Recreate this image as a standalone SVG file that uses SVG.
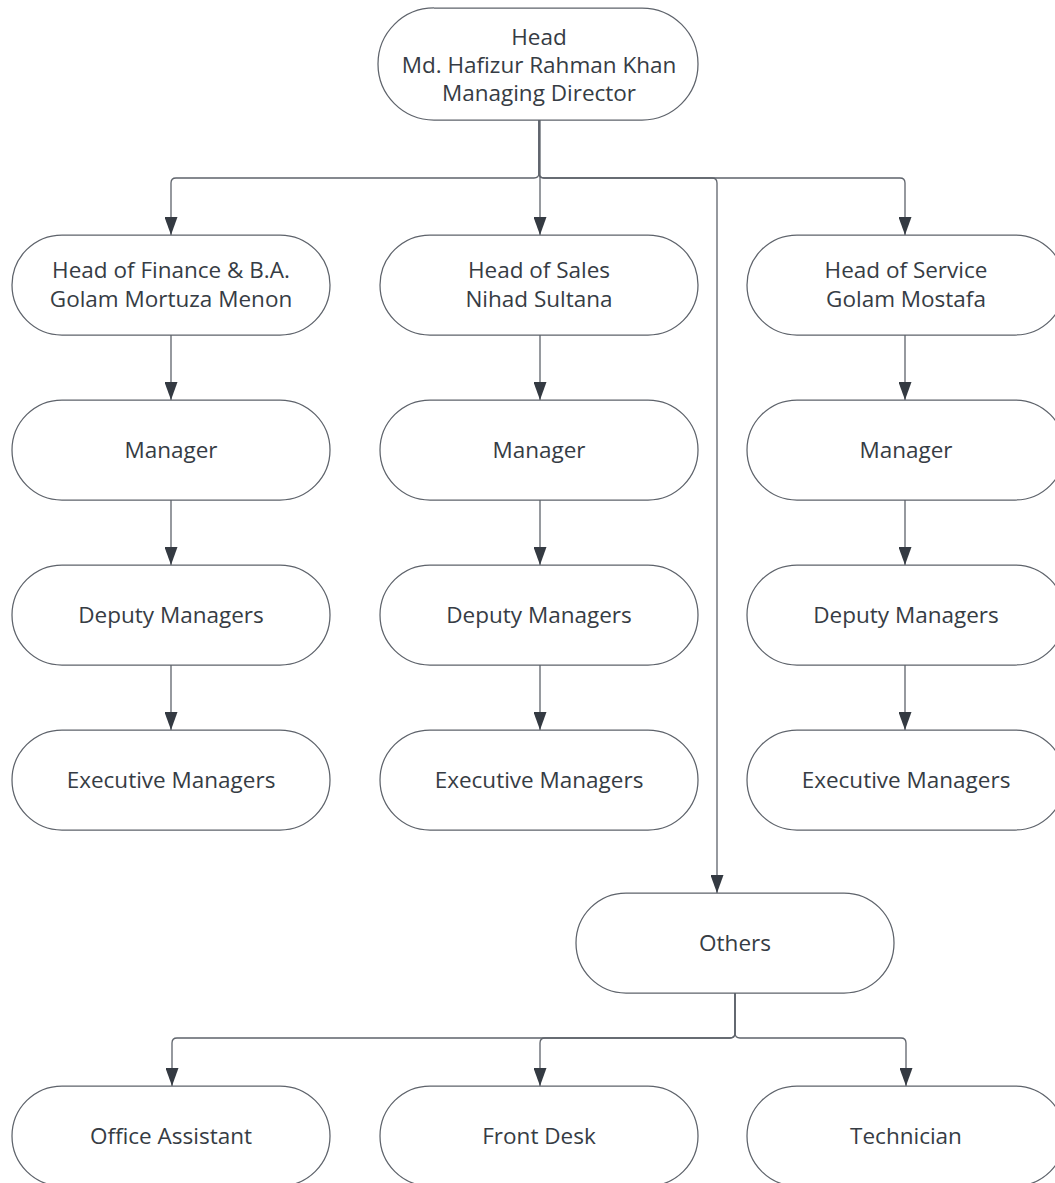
<svg xmlns="http://www.w3.org/2000/svg" width="1055" height="1183" viewBox="0 0 1055 1183">
  <defs>
    <!-- solid downward arrowhead; the line ends at the tip -->
    <marker id="arrow" markerUnits="userSpaceOnUse" markerWidth="18" markerHeight="13" refX="18" refY="6.5" orient="auto" viewBox="0 0 18 13">
      <path d="M0 0 L18 6.5 L0 13 Z" fill="#343a42"/>
    </marker>
    <style>
      .node rect { fill: #ffffff; stroke: #5e636b; stroke-width: 1.25; }
      .node text { font-family: "Open Sans", "Noto Sans", sans-serif; font-size: 22.5px; fill: #363c44; text-anchor: middle; }
      .edges path { fill: none; stroke: #5e636b; stroke-width: 1.3; }
      .edges path.arrowed { marker-end: url(#arrow); }
    </style>
  </defs>
  <rect width="1055" height="1183" fill="#ffffff"/>

  <!-- connectors -->
  <g id="connectors" class="edges">
    <path class="arrowed" d="M539 120 V173 Q539 178 534 178 H176 Q171 178 171 183 V235"/>
    <path class="arrowed" d="M540 120 V235"/>
    <path class="arrowed" d="M539 120 V173 Q539 178 544 178 H712 Q717 178 717 183 V893"/>
    <path class="arrowed" d="M539 120 V173 Q539 178 544 178 H900 Q905 178 905 183 V235"/>

    <path class="arrowed" d="M171 335 V400"/>
    <path class="arrowed" d="M171 500 V565"/>
    <path class="arrowed" d="M171 665 V730"/>
    <path class="arrowed" d="M540 335 V400"/>
    <path class="arrowed" d="M540 500 V565"/>
    <path class="arrowed" d="M540 665 V730"/>
    <path class="arrowed" d="M905 335 V400"/>
    <path class="arrowed" d="M905 500 V565"/>
    <path class="arrowed" d="M905 665 V730"/>

    <path class="arrowed" d="M735 993 V1033 Q735 1038 730 1038 H177 Q172 1038 172 1043 V1086"/>
    <path class="arrowed" d="M735 993 V1033 Q735 1038 730 1038 H545 Q540 1038 540 1043 V1086"/>
    <path class="arrowed" d="M735 993 V1033 Q735 1038 740 1038 H901 Q906 1038 906 1043 V1086"/>
  </g>

  <!-- nodes -->
  <g id="head" class="node">
    <rect x="378" y="8" width="320" height="112" rx="56"/>
    <text x="539" y="45">Head</text>
    <text x="539" y="73">Md. Hafizur Rahman Khan</text>
    <text x="539" y="101">Managing Director</text>
  </g>

  <g id="head-finance" class="node">
    <rect x="12" y="235" width="318" height="100" rx="50"/>
    <text x="171" y="278">Head of Finance &amp; B.A.</text>
    <text x="171" y="307">Golam Mortuza Menon</text>
  </g>
  <g id="head-sales" class="node">
    <rect x="380" y="235" width="318" height="100" rx="50"/>
    <text x="539" y="278">Head of Sales</text>
    <text x="539" y="307">Nihad Sultana</text>
  </g>
  <g id="head-service" class="node">
    <rect x="747" y="235" width="318" height="100" rx="50"/>
    <text x="906" y="278">Head of Service</text>
    <text x="906" y="307">Golam Mostafa</text>
  </g>

  <g id="finance-manager" class="node">
    <rect x="12" y="400" width="318" height="100" rx="50"/>
    <text x="171" y="458">Manager</text>
  </g>
  <g id="sales-manager" class="node">
    <rect x="380" y="400" width="318" height="100" rx="50"/>
    <text x="539" y="458">Manager</text>
  </g>
  <g id="service-manager" class="node">
    <rect x="747" y="400" width="318" height="100" rx="50"/>
    <text x="906" y="458">Manager</text>
  </g>

  <g id="finance-deputy" class="node">
    <rect x="12" y="565" width="318" height="100" rx="50"/>
    <text x="171" y="623">Deputy Managers</text>
  </g>
  <g id="sales-deputy" class="node">
    <rect x="380" y="565" width="318" height="100" rx="50"/>
    <text x="539" y="623">Deputy Managers</text>
  </g>
  <g id="service-deputy" class="node">
    <rect x="747" y="565" width="318" height="100" rx="50"/>
    <text x="906" y="623">Deputy Managers</text>
  </g>

  <g id="finance-executive" class="node">
    <rect x="12" y="730" width="318" height="100" rx="50"/>
    <text x="171" y="788">Executive Managers</text>
  </g>
  <g id="sales-executive" class="node">
    <rect x="380" y="730" width="318" height="100" rx="50"/>
    <text x="539" y="788">Executive Managers</text>
  </g>
  <g id="service-executive" class="node">
    <rect x="747" y="730" width="318" height="100" rx="50"/>
    <text x="906" y="788">Executive Managers</text>
  </g>

  <g id="others" class="node">
    <rect x="576" y="893" width="318" height="100" rx="50"/>
    <text x="735" y="951">Others</text>
  </g>

  <g id="office-assistant" class="node">
    <rect x="12" y="1086" width="318" height="100" rx="50"/>
    <text x="171" y="1144">Office Assistant</text>
  </g>
  <g id="front-desk" class="node">
    <rect x="380" y="1086" width="318" height="100" rx="50"/>
    <text x="539" y="1144">Front Desk</text>
  </g>
  <g id="technician" class="node">
    <rect x="747" y="1086" width="318" height="100" rx="50"/>
    <text x="906" y="1144">Technician</text>
  </g>
</svg>
